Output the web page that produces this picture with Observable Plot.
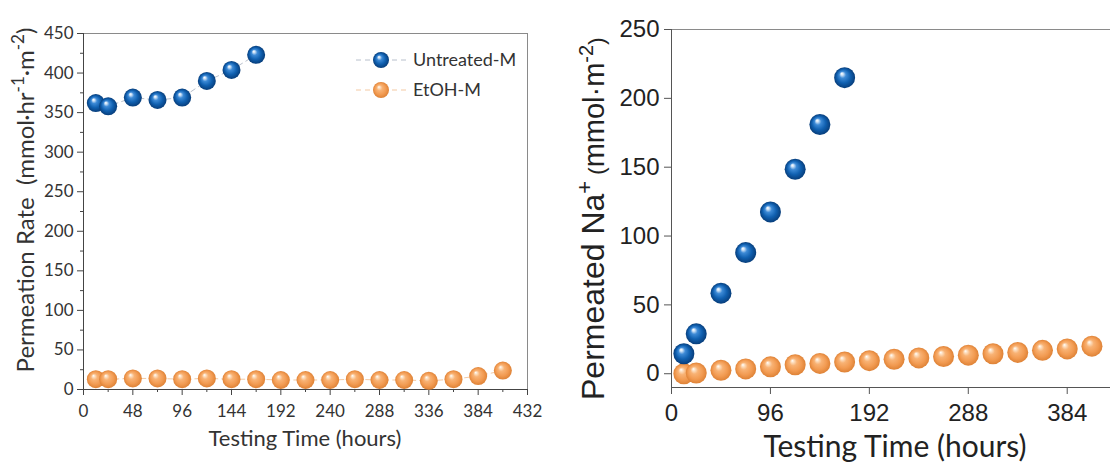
<!DOCTYPE html>
<html><head><meta charset="utf-8">
<script src="https://cdn.jsdelivr.net/npm/d3@7"></script>
<script src="https://cdn.jsdelivr.net/npm/@observablehq/plot@0.6"></script>
<style>
body{margin:0;background:#fff;}
#wrap{display:flex;width:1110px;height:464px;overflow:hidden;}
#wrap svg{flex:none;}
</style></head><body>
<svg width="0" height="0" style="position:absolute">
<defs>
<radialGradient id="ballBlue" cx="0.5" cy="0.5" r="0.5" fx="0.36" fy="0.3">
<stop offset="0" stop-color="#ffffff"/>
<stop offset="0.12" stop-color="#cfe3f7"/>
<stop offset="0.32" stop-color="#3d8ad6"/>
<stop offset="0.65" stop-color="#1060b0"/>
<stop offset="1" stop-color="#073d7a"/>
</radialGradient>
<radialGradient id="ballOrange" cx="0.5" cy="0.5" r="0.5" fx="0.36" fy="0.3">
<stop offset="0" stop-color="#ffffff"/>
<stop offset="0.12" stop-color="#fde3c8"/>
<stop offset="0.35" stop-color="#f8b274"/>
<stop offset="0.7" stop-color="#f29b52"/>
<stop offset="1" stop-color="#de8236"/>
</radialGradient>
</defs></svg>
<div id="wrap"></div>
<script>
// ---- Data: left panel (Permeation Rate) ----
const hoursUntreatedL = [12, 24, 48, 72, 96, 120, 144, 168];
const rateUntreated   = [362, 358, 369, 366, 369, 390, 404, 423];
const hoursEtohL = [12, 24, 48, 72, 96, 120, 144, 168, 192, 216, 240, 264, 288, 312, 336, 360, 384, 408];
const rateEtoh   = [13, 13, 14, 14, 13, 14, 13, 13, 12, 12, 12, 13, 12, 12, 11, 13, 17, 24];

// ---- Data: right panel (Permeated Na+) ----
const hoursUntreatedR = [12, 24, 48, 72, 96, 120, 144, 168];
const naUntreated     = [14.5, 29, 58.5, 88, 117.5, 148.5, 181, 215];
const hoursEtohR = [12, 24, 48, 72, 96, 120, 144, 168, 192, 216, 240, 264, 288, 312, 336, 360, 384, 408];
const naEtoh     = [0, 0.5, 2.5, 3.5, 5, 6.5, 7.5, 8.5, 9.5, 10.5, 11.5, 12.5, 13.5, 14.5, 15.5, 17, 18, 20];

// ---- Axes ----
const xDomainL = [0, 432];
const yDomainL = [0, 450];
const xTicksL = [0, 48, 96, 144, 192, 240, 288, 336, 384, 432];
const xMinorL = [24, 72, 120, 168, 216, 264, 312, 360, 408];
const yTicksL = [0, 50, 100, 150, 200, 250, 300, 350, 400, 450];
const yMinorL = [25, 75, 125, 175, 225, 275, 325, 375, 425];

const xDomainR = [0, 426];
const yDomainR = [-10, 250];
const xTicksR = [0, 96, 192, 288, 384];
const yTicksR = [0, 50, 100, 150, 200, 250];

const seriesNames = ["Untreated-M", "EtOH-M"];
const fills = ["url(#ballBlue)", "url(#ballOrange)"];
const lineColors = ["#b8c0cc", "#f3c9a3"];

const tbl = (xs, ys) => xs.map((x, i) => ({x, y: ys[i]}));
const uL = tbl(hoursUntreatedL, rateUntreated);
const eL = tbl(hoursEtohL, rateEtoh);
const uR = tbl(hoursUntreatedR, naUntreated);
const eR = tbl(hoursEtohR, naEtoh);

const left = Plot.plot({
  width: 560, height: 464,
  marginLeft: 83, marginRight: 33, marginTop: 33, marginBottom: 75,
  style: {fontFamily: "Lato, sans-serif", color: "#333", background: "transparent", overflow: "visible"},
  x: {domain: xDomainL},
  y: {domain: yDomainL},
  marks: [
    Plot.frame({stroke: "#8a8a8a"}),
    Plot.ruleX([xDomainL[0]], {stroke: "#444"}),
    Plot.ruleY([yDomainL[0]], {stroke: "#444"}),
    Plot.axisX({ticks: xMinorL, tickSize: 3, tickFormat: () => "", label: null, stroke: "#444"}),
    Plot.axisX({ticks: xTicksL, tickSize: 6, tickPadding: 9, fontSize: 17, label: null, stroke: "#444"}),
    Plot.axisY({ticks: yMinorL, tickSize: 3, tickFormat: () => "", label: null, stroke: "#444"}),
    Plot.axisY({ticks: yTicksL, tickSize: 6, tickPadding: 4, fontSize: 17, label: null, stroke: "#444"}),
    Plot.line(uL, {x: "x", y: "y", stroke: lineColors[0], strokeDasharray: "5,4", strokeWidth: 1}),
    Plot.line(eL, {x: "x", y: "y", stroke: lineColors[1], strokeDasharray: "5,4", strokeWidth: 1}),
    Plot.dot(eL, {x: "x", y: "y", r: 9, fill: fills[1]}),
    Plot.dot(uL, {x: "x", y: "y", r: 9, fill: fills[0]})
  ]
});

// left titles
{
  const s = d3.select(left);
  s.append("text").attr("x", 305).attr("y", 446).attr("text-anchor", "middle")
    .attr("font-size", 22).attr("fill", "#333").text("Testing Time (hours)");
  const t = s.append("text").attr("transform", "translate(34,200) rotate(-90)")
    .attr("text-anchor", "middle").attr("font-size", 24).attr("fill", "#333");
  t.append("tspan").text("Permeation Rate  (mmol·hr");
  t.append("tspan").attr("baseline-shift", "super").attr("font-size", 17).text("-1");
  t.append("tspan").text("·m");
  t.append("tspan").attr("baseline-shift", "super").attr("font-size", 17).text("-2");
  t.append("tspan").text(")");
  // legend
  const lg = s.append("g").attr("font-size", 18).attr("fill", "#333").attr("text-anchor", "start");
  seriesNames.forEach((name, i) => {
    const yy = 60 + i * 30;
    lg.append("line").attr("x1", 356).attr("x2", 406).attr("y1", yy).attr("y2", yy)
      .attr("stroke", lineColors[i]).attr("stroke-dasharray", "5,4");
    lg.append("circle").attr("cx", 381).attr("cy", yy).attr("r", 8).attr("fill", fills[i]);
    lg.append("text").attr("x", 413).attr("y", yy).attr("dy", "0.35em").text(name);
  });
}

const right = Plot.plot({
  width: 550, height: 464,
  marginLeft: 111, marginRight: 0, marginTop: 29, marginBottom: 77,
  style: {fontFamily: "'Liberation Sans', Arial, sans-serif", color: "#222", background: "transparent"},
  x: {domain: xDomainR},
  y: {domain: yDomainR},
  marks: [
    Plot.ruleY([yDomainR[1]], {stroke: "#8a8a8a"}),
    Plot.ruleX([xDomainR[0]], {stroke: "#555"}),
    Plot.ruleY([yDomainR[0]], {stroke: "#555"}),
    Plot.axisX({ticks: xTicksR, tickSize: 7, tickPadding: 9, fontSize: 24, label: null, stroke: "#555"}),
    Plot.axisY({ticks: yTicksR, tickSize: 7, tickPadding: 5, fontSize: 24, label: null, stroke: "#555"}),
    Plot.dot(eR, {x: "x", y: "y", r: 10.5, fill: fills[1]}),
    Plot.dot(uR, {x: "x", y: "y", r: 10.5, fill: fills[0]})
  ]
});

{
  const s = d3.select(right);
  s.append("text").attr("x", 335).attr("y", 457).attr("text-anchor", "middle")
    .attr("font-family", "Lato, sans-serif").attr("font-size", 30).attr("fill", "#222")
    .text("Testing Time (hours)");
  const t = s.append("text").attr("transform", "translate(44,400) rotate(-90)")
    .attr("text-anchor", "start").attr("font-size", 32).attr("fill", "#222");
  t.append("tspan").text("Permeated Na");
  t.append("tspan").attr("baseline-shift", "super").attr("font-size", 22).text("+");
  t.append("tspan").attr("font-size", 22).text(" (");
  t.append("tspan").attr("font-size", 29).text("mmol·m");
  t.append("tspan").attr("baseline-shift", "super").attr("font-size", 20).text("-2");
  t.append("tspan").attr("font-size", 22).text(")");
}

document.getElementById("wrap").append(left, right);
</script>
</body></html>
